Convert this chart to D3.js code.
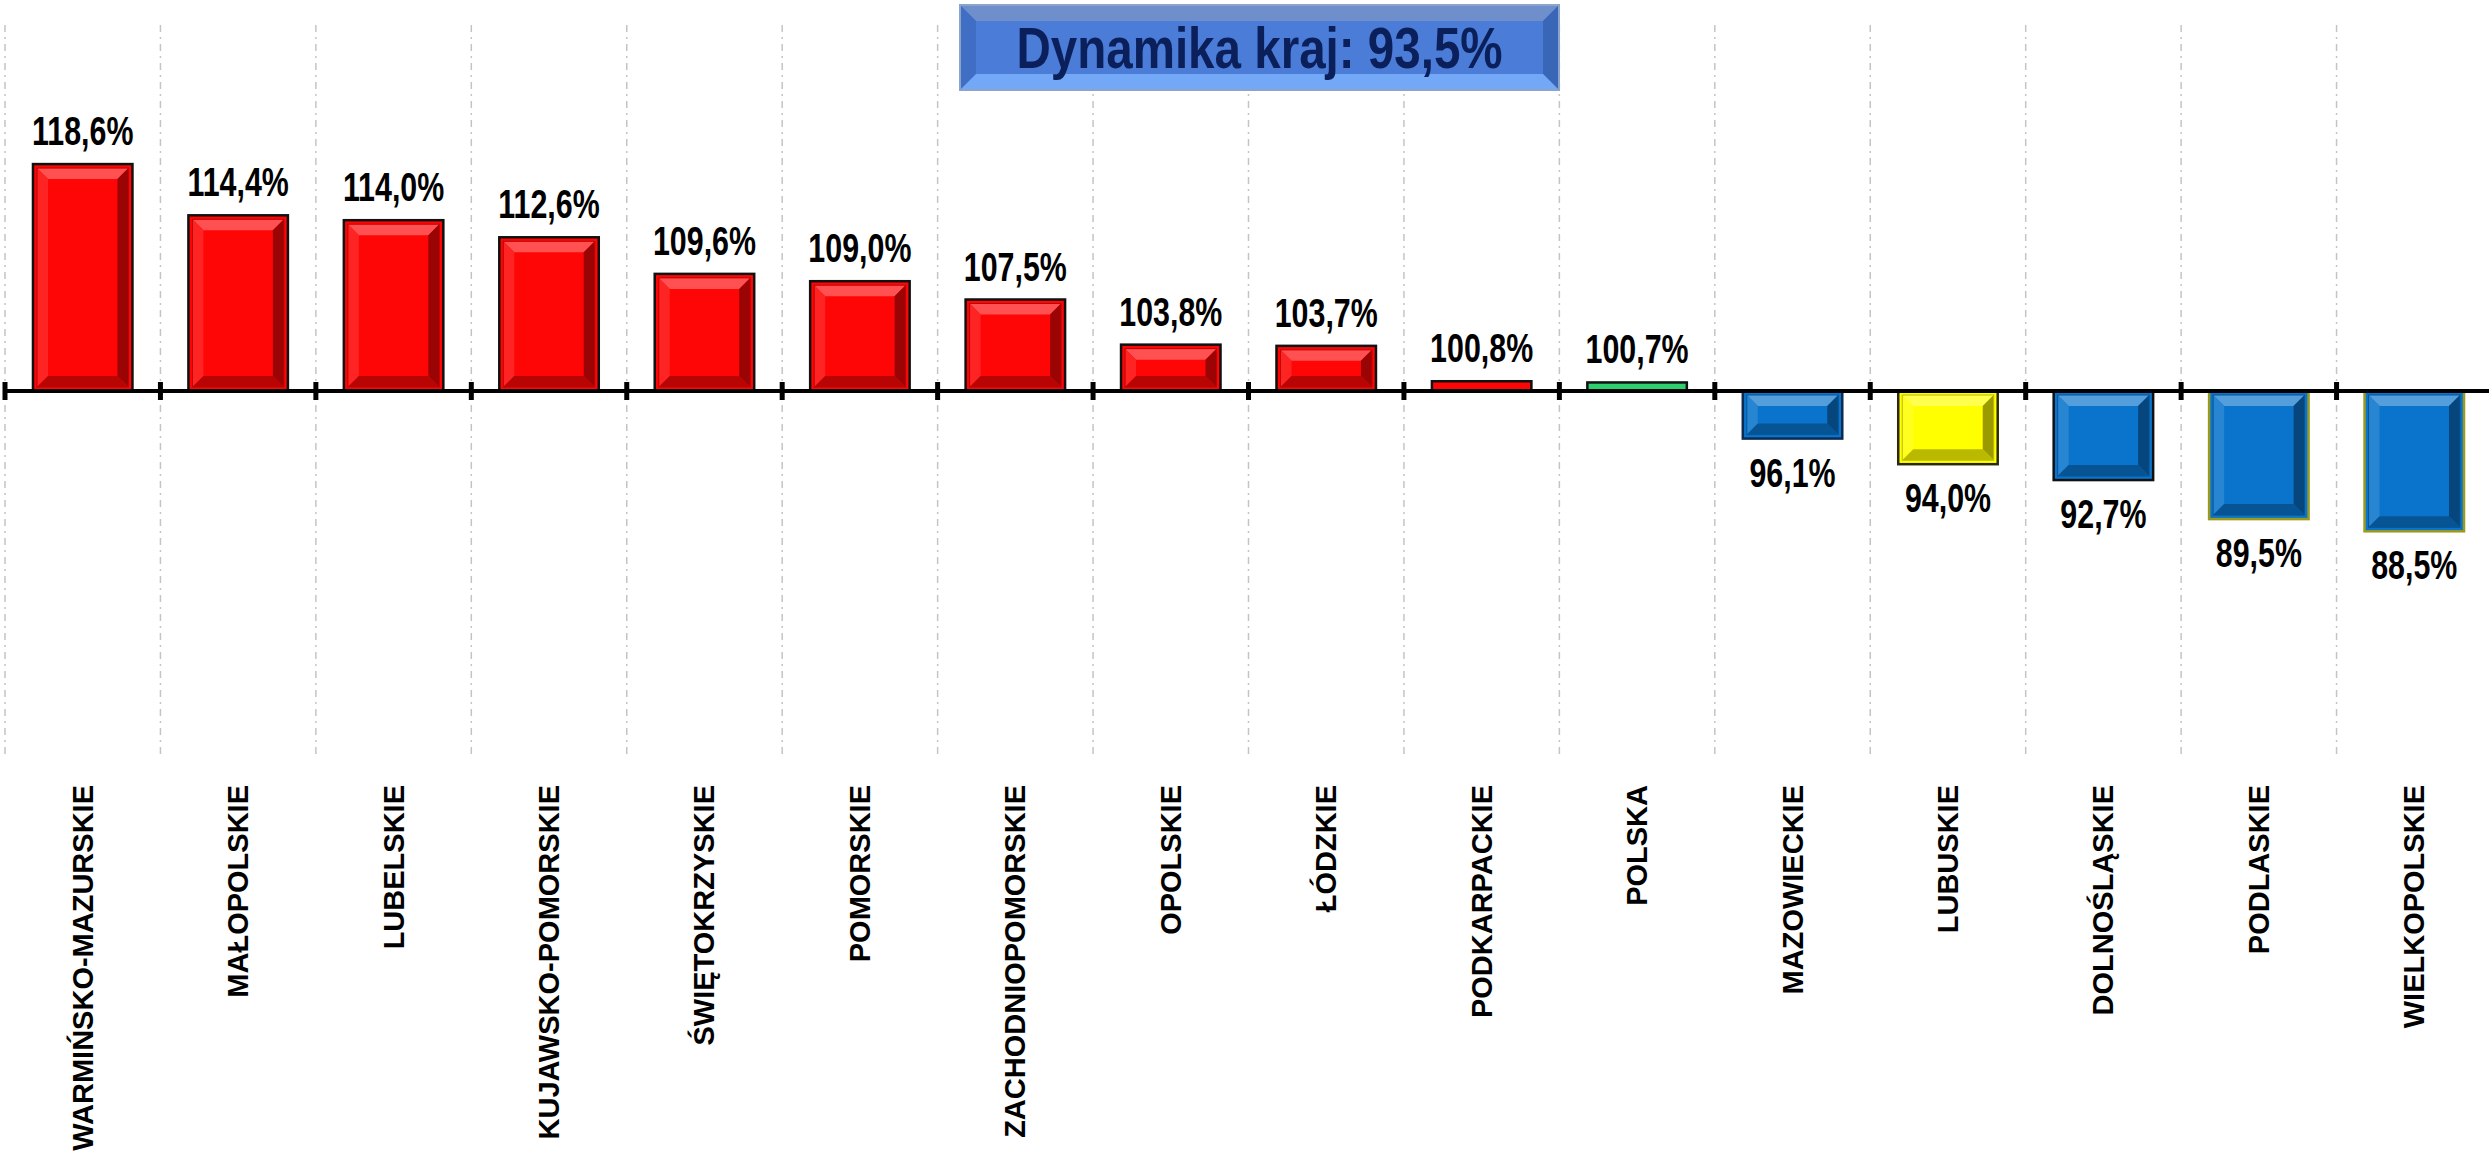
<!DOCTYPE html>
<html>
<head>
<meta charset="utf-8">
<script src="https://cdn.jsdelivr.net/npm/d3@7"></script>
<style>
  body { margin: 0; background: #fff; }
  svg { display: block; }
  text { font-family: "Liberation Sans", Arial, sans-serif; font-weight: bold; }
</style>
</head>
<body>
<svg id="chart" width="2489" height="1157"></svg>
<script>
// data
const regions = [
  'WARMIŃSKO-MAZURSKIE', 'MAŁOPOLSKIE', 'LUBELSKIE', 'KUJAWSKO-POMORSKIE',
  'ŚWIĘTOKRZYSKIE', 'POMORSKIE', 'ZACHODNIOPOMORSKIE', 'OPOLSKIE', 'ŁÓDZKIE',
  'PODKARPACKIE', 'POLSKA', 'MAZOWIECKIE', 'LUBUSKIE', 'DOLNOŚLĄSKIE',
  'PODLASKIE', 'WIELKOPOLSKIE'
];
const dynamics = [118.6, 114.4, 114.0, 112.6, 109.6, 109.0, 107.5, 103.8, 103.7,
  100.8, 100.7, 96.1, 94.0, 92.7, 89.5, 88.5];
const countryDynamics = 93.5;
const baseline = 100;
const yDomain = [70, 130];

// colours per bar
const fillColor = {
  'POLSKA': '#2ed06e',
  'LUBUSKIE': '#ffff00',
  'MAZOWIECKIE': '#0a74cc',
  'DOLNOŚLĄSKIE': '#0a74cc',
  'PODLASKIE': '#0a74cc',
  'WIELKOPOLSKIE': '#0a74cc'
};
const strokeColor = {
  'MAZOWIECKIE': '#0d2b52',
  'LUBUSKIE': '#2a2a10',
  'PODLASKIE': '#9c9a1c',
  'WIELKOPOLSKIE': '#9c9a1c'
};

const data = regions.map((r, i) => ({ region: r, value: dynamics[i] }));
const fmt = (v) => v.toFixed(1).replace('.', ',') + '%';

const svg = d3.select('#chart');

const x = d3.scaleBand()
  .domain(regions)
  .range([5, 2492])
  .paddingInner(0.36)
  .paddingOuter(0.18);

const y = d3.scaleLinear().domain(yDomain).range([757, 25]);

const step = x.step();
const bounds = d3.range(regions.length + 1).map((i) => 5 + i * step);

// vertical dash-dot gridlines between categories
svg.append('g')
  .selectAll('line')
  .data(bounds)
  .enter()
  .append('line')
  .attr('x1', (d) => d)
  .attr('x2', (d) => d)
  .attr('y1', y(yDomain[1]))
  .attr('y2', y(yDomain[0]))
  .attr('stroke', '#c4c4c4')
  .attr('stroke-width', 1.5)
  .attr('stroke-dasharray', '7,5,2,5');

// bars
const bars = svg.append('g');

const drawBevel = (g, x0, y0, w, h, color) => {
  const inset = 4;
  const bx0 = x0 + inset, by0 = y0 + inset;
  const bw = w - 2 * inset, bh = h - 2 * inset;
  if (bw <= 2 || bh <= 2) return;
  const b = Math.min(11, bh / 2, bw / 2);
  const c = d3.color(color);
  const light = d3.interpolateRgb(color, '#ffffff')(0.3);
  const mid = d3.interpolateRgb(color, '#ffffff')(0.12);
  const dark = c.darker(0.9).formatHex();
  const darker = c.darker(1.4).formatHex();
  const x1 = bx0 + bw, y1 = by0 + bh;
  const polys = [
    [[[bx0, by0], [x1, by0], [x1 - b, by0 + b], [bx0 + b, by0 + b]], light],
    [[[bx0, by0], [bx0 + b, by0 + b], [bx0 + b, y1 - b], [bx0, y1]], mid],
    [[[x1, by0], [x1, y1], [x1 - b, y1 - b], [x1 - b, by0 + b]], darker],
    [[[bx0, y1], [bx0 + b, y1 - b], [x1 - b, y1 - b], [x1, y1]], dark]
  ];
  g.selectAll(null)
    .data(polys)
    .enter()
    .append('polygon')
    .attr('points', (p) => p[0].map((pt) => pt.join(',')).join(' '))
    .attr('fill', (p) => p[1]);
  g.append('rect')
    .attr('x', bx0)
    .attr('y', by0)
    .attr('width', bw)
    .attr('height', bh)
    .attr('fill', 'none')
    .attr('stroke', dark)
    .attr('stroke-width', 1);
};

data.forEach((d) => {
  const color = fillColor[d.region] || '#ff0606';
  const stroke = strokeColor[d.region] || '#111111';
  const top = Math.min(y(d.value), y(baseline));
  const h = Math.abs(y(d.value) - y(baseline));
  const g = bars.append('g');
  g.append('rect')
    .attr('x', x(d.region))
    .attr('y', top)
    .attr('width', x.bandwidth())
    .attr('height', h)
    .attr('fill', color);
  drawBevel(g, x(d.region), top, x.bandwidth(), h, color);
  g.append('rect')
    .attr('x', x(d.region))
    .attr('y', top)
    .attr('width', x.bandwidth())
    .attr('height', h)
    .attr('fill', 'none')
    .attr('stroke', stroke)
    .attr('stroke-width', 2.5);
});

// axis line at 100% with ticks between categories
svg.append('line')
  .attr('x1', 5)
  .attr('x2', 2489)
  .attr('y1', y(baseline))
  .attr('y2', y(baseline))
  .attr('stroke', '#000')
  .attr('stroke-width', 4);

svg.append('g')
  .selectAll('line')
  .data(bounds.slice(0, regions.length))
  .enter()
  .append('line')
  .attr('x1', (d) => d)
  .attr('x2', (d) => d)
  .attr('y1', y(baseline) - 9)
  .attr('y2', y(baseline) + 9)
  .attr('stroke', '#000')
  .attr('stroke-width', 5);

// value labels (narrow bold)
svg.append('g')
  .selectAll('text')
  .data(data)
  .enter()
  .append('text')
  .attr('transform', (d) => {
    const cx = x(d.region) + x.bandwidth() / 2;
    const ty = d.value >= baseline ? y(d.value) - 19 : y(d.value) + 48;
    return `translate(${cx},${ty}) scale(0.76,1)`;
  })
  .attr('text-anchor', 'middle')
  .attr('font-size', 40)
  .attr('fill', '#000')
  .text((d) => fmt(d.value));

// category labels, rotated
svg.append('g')
  .selectAll('text')
  .data(regions)
  .enter()
  .append('text')
  .attr('transform', (d) => `translate(${x(d) + x.bandwidth() / 2 + 10},785) rotate(-90)`)
  .attr('text-anchor', 'end')
  .attr('font-size', 29)
  .attr('fill', '#000')
  .text((d) => d);

// title box
const box = { x: 960, y: 5, w: 599, h: 85, b: 16 };
const tb = svg.append('g');
tb.append('rect')
  .attr('x', box.x)
  .attr('y', box.y)
  .attr('width', box.w)
  .attr('height', box.h)
  .attr('fill', '#4a7cd8');
const bx1 = box.x + box.w, by1 = box.y + box.h;
const boxPolys = [
  [[[box.x, box.y], [bx1, box.y], [bx1 - box.b, box.y + box.b], [box.x + box.b, box.y + box.b]], '#6f8fcc'],
  [[[box.x, box.y], [box.x + box.b, box.y + box.b], [box.x + box.b, by1 - box.b], [box.x, by1]], '#3f6ec4'],
  [[[bx1, box.y], [bx1, by1], [bx1 - box.b, by1 - box.b], [bx1 - box.b, box.y + box.b]], '#3a66b8'],
  [[[box.x, by1], [box.x + box.b, by1 - box.b], [bx1 - box.b, by1 - box.b], [bx1, by1]], '#73a8f6']
];
tb.selectAll('polygon')
  .data(boxPolys)
  .enter()
  .append('polygon')
  .attr('points', (p) => p[0].map((pt) => pt.join(',')).join(' '))
  .attr('fill', (p) => p[1]);
tb.append('rect')
  .attr('x', box.x)
  .attr('y', box.y)
  .attr('width', box.w)
  .attr('height', box.h)
  .attr('fill', 'none')
  .attr('stroke', '#8aa4cc')
  .attr('stroke-width', 2);
tb.append('text')
  .attr('transform', `translate(${box.x + box.w / 2},${box.y + 63}) scale(0.82,1)`)
  .attr('text-anchor', 'middle')
  .attr('font-size', 58)
  .attr('fill', '#0b1f5a')
  .text('Dynamika kraj: ' + fmt(countryDynamics));
</script>
</body>
</html>
